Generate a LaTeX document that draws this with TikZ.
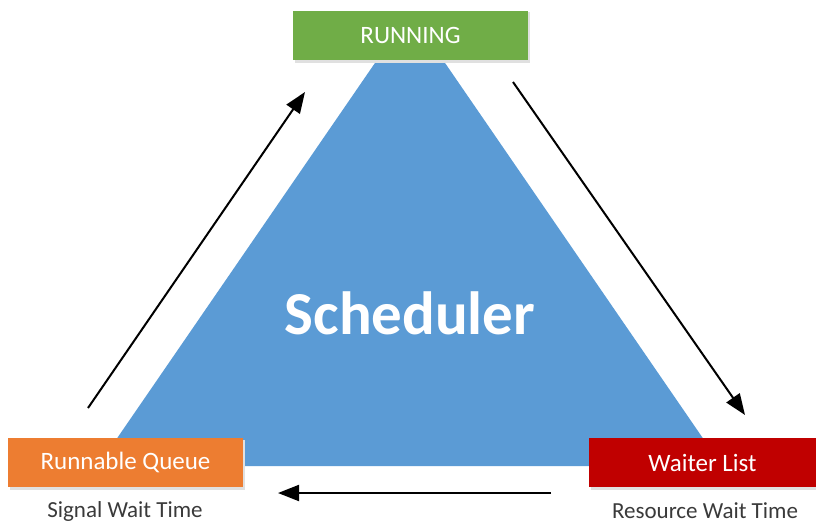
\documentclass[tikz,border=0pt]{standalone}
\usepackage{fontspec}
\setmainfont{Carlito}
\usetikzlibrary{arrows.meta}
\definecolor{rungreen}{HTML}{70AD47}
\definecolor{schedblue}{HTML}{5B9BD5}
\definecolor{queueorange}{HTML}{ED7D31}
\definecolor{waitred}{HTML}{C00000}
\definecolor{labelgray}{HTML}{3A3A3A}
\tikzset{
  statebox/.style={minimum width=#1, minimum height=49pt, inner sep=0pt, text=white,
    font=\fontsize{25}{30}\selectfont},
  sublabel/.style={text=labelgray, font=\fontsize{23}{27}\selectfont, inner sep=0pt},
  flow/.style={draw=black, line width=2pt, -{Triangle[length=21pt,width=16pt]}}
}
\begin{document}
\begin{tikzpicture}[x=1pt,y=-1pt]
\useasboundingbox (0,0) rectangle (816,523);
% triangle
\fill[schedblue] (410,12) -- (98,466) -- (722,466) -- cycle;
\node[text=white, font=\bfseries\fontsize{61}{66}\selectfont, inner sep=0pt] (sched) at (410,313) {Scheduler};
% shadows
\fill[black!12] (295,12) rectangle (530,63);
\fill[black!12] (10,440) rectangle (245,490);
\fill[black!12] (591,440) rectangle (816,490);
% boxes
\node[statebox=235pt, fill=rungreen] (run) at (410.5,35) {RUNNING};
\node[statebox=235pt, fill=queueorange] (queue) at (125.5,462.5) {Runnable Queue};
\node[statebox=227pt, fill=waitred] (wait) at (702.5,462.5) {Waiter List};
\node[sublabel] (sig) at (125,511) {Signal Wait Time};
\node[sublabel] (res) at (705,511) {Resource Wait Time};
% arrow ends
\coordinate (a1s) at (88,408);
\coordinate (a1e) at (305,92);
\coordinate (a2s) at (513,82);
\coordinate (a2e) at (745,415);
\coordinate (a3s) at (551,493);
\coordinate (a3e) at (278,493);
\draw[flow] (a1s) -- (a1e);
\draw[flow] (a2s) -- (a2e);
\draw[flow] (a3s) -- (a3e);
\end{tikzpicture}
\end{document}
